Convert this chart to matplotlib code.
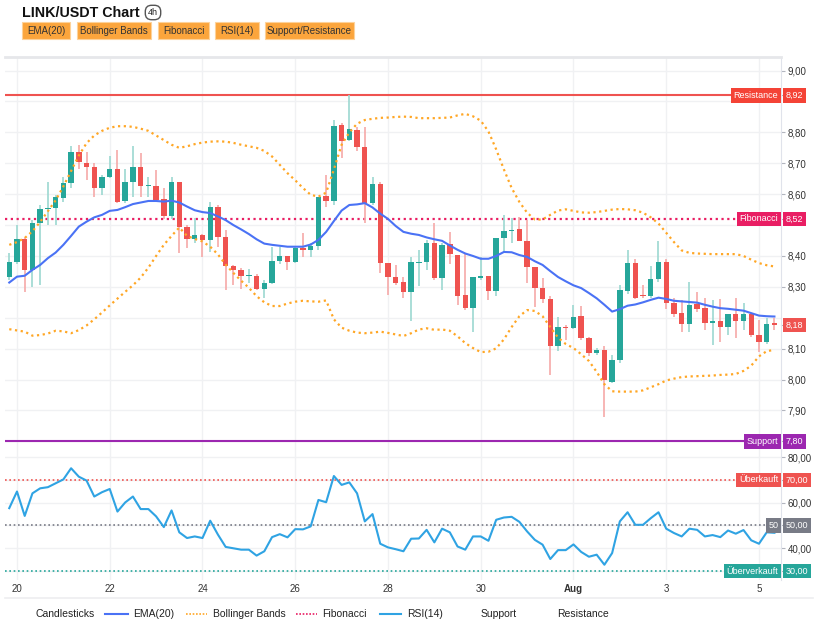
import numpy as np
import matplotlib
matplotlib.use('Agg')
import matplotlib.pyplot as plt
from matplotlib.patches import Rectangle
from matplotlib.lines import Line2D
from matplotlib.ticker import FuncFormatter

plt.rcParams['font.family'] = ['Liberation Sans', 'DejaVu Sans']

# 4h candles, 19 Jul 20:00 -> 5 Aug 08:00
opens = [8.333, 8.380, 8.456, 8.355, 8.506, 8.551, 8.555, 8.587, 8.635, 8.737,
         8.702, 8.689, 8.619, 8.657, 8.682, 8.577, 8.639, 8.687, 8.625, 8.627,
         8.584, 8.530, 8.638, 8.495, 8.455, 8.468, 8.452, 8.560, 8.460, 8.366,
         8.355, 8.336, 8.336, 8.293, 8.314, 8.385, 8.400, 8.380, 8.425, 8.419,
         8.433, 8.594, 8.579, 8.824, 8.774, 8.808, 8.752, 8.571, 8.633, 8.378,
         8.331, 8.315, 8.284, 8.377, 8.379, 8.443, 8.330, 8.438, 8.404, 8.273,
         8.230, 8.329, 8.335, 8.287, 8.457, 8.480, 8.486, 8.449, 8.364, 8.296,
         8.260, 8.107, 8.169, 8.166, 8.206, 8.134, 8.085, 8.096, 7.993, 8.064,
         8.288, 8.377, 8.274, 8.271, 8.325, 8.380, 8.247, 8.215, 8.180, 8.245,
         8.231, 8.183, 8.191, 8.169, 8.212, 8.191, 8.212, 8.144, 8.121, 8.182]
highs = [8.409, 8.500, 8.462, 8.517, 8.565, 8.641, 8.598, 8.657, 8.757, 8.760,
         8.738, 8.700, 8.662, 8.724, 8.743, 8.682, 8.756, 8.732, 8.657, 8.678,
         8.619, 8.657, 8.641, 8.500, 8.522, 8.470, 8.576, 8.565, 8.484, 8.371,
         8.360, 8.357, 8.341, 8.322, 8.430, 8.430, 8.400, 8.430, 8.474, 8.441,
         8.592, 8.662, 8.840, 8.830, 8.920, 8.819, 8.819, 8.657, 8.641, 8.378,
         8.371, 8.331, 8.398, 8.420, 8.452, 8.508, 8.443, 8.479, 8.404, 8.411,
         8.331, 8.396, 8.335, 8.458, 8.533, 8.522, 8.527, 8.517, 8.364, 8.328,
         8.271, 8.202, 8.177, 8.242, 8.238, 8.139, 8.101, 8.107, 8.080, 8.306,
         8.418, 8.389, 8.306, 8.368, 8.450, 8.389, 8.263, 8.258, 8.317, 8.285,
         8.263, 8.258, 8.260, 8.212, 8.263, 8.247, 8.212, 8.193, 8.198, 8.198]
lows = [8.322, 8.375, 8.285, 8.299, 8.305, 8.500, 8.500, 8.576, 8.619, 8.681,
        8.646, 8.590, 8.598, 8.652, 8.571, 8.573, 8.592, 8.592, 8.592, 8.576,
        8.519, 8.519, 8.409, 8.425, 8.441, 8.398, 8.414, 8.430, 8.290, 8.306,
        8.292, 8.312, 8.290, 8.263, 8.310, 8.374, 8.355, 8.376, 8.398, 8.398,
        8.420, 8.558, 8.565, 8.716, 8.772, 8.741, 8.506, 8.565, 8.344, 8.274,
        8.306, 8.265, 8.188, 8.304, 8.355, 8.322, 8.290, 8.373, 8.242, 8.225,
        8.155, 8.322, 8.258, 8.271, 8.409, 8.443, 8.447, 8.314, 8.236, 8.247,
        8.015, 8.093, 8.128, 8.163, 8.128, 8.077, 8.080, 7.880, 7.990, 8.053,
        8.277, 8.260, 8.263, 8.263, 8.317, 8.228, 8.204, 8.155, 8.155, 8.220,
        8.161, 8.112, 8.120, 8.145, 8.134, 8.161, 8.137, 8.090, 8.115, 8.161]
closes = [8.380, 8.454, 8.355, 8.508, 8.551, 8.556, 8.590, 8.635, 8.737, 8.703,
          8.687, 8.619, 8.657, 8.682, 8.576, 8.639, 8.687, 8.625, 8.628, 8.581,
          8.530, 8.638, 8.493, 8.455, 8.468, 8.452, 8.560, 8.461, 8.366, 8.355,
          8.335, 8.339, 8.293, 8.314, 8.385, 8.400, 8.380, 8.425, 8.419, 8.433,
          8.592, 8.579, 8.821, 8.773, 8.810, 8.752, 8.571, 8.633, 8.376, 8.331,
          8.314, 8.284, 8.379, 8.381, 8.441, 8.330, 8.436, 8.406, 8.271, 8.230,
          8.331, 8.334, 8.287, 8.458, 8.481, 8.484, 8.447, 8.364, 8.296, 8.260,
          8.107, 8.169, 8.166, 8.204, 8.134, 8.087, 8.096, 7.997, 8.064, 8.290,
          8.377, 8.263, 8.269, 8.325, 8.380, 8.247, 8.212, 8.180, 8.242, 8.228,
          8.182, 8.188, 8.169, 8.212, 8.191, 8.212, 8.144, 8.121, 8.180, 8.177]

ema20 = [8.314, 8.333, 8.336, 8.355, 8.371, 8.393, 8.411, 8.436, 8.465, 8.495,
         8.511, 8.525, 8.533, 8.546, 8.549, 8.558, 8.568, 8.573, 8.578, 8.578,
         8.576, 8.579, 8.573, 8.560, 8.548, 8.542, 8.539, 8.528, 8.516, 8.500,
         8.486, 8.471, 8.454, 8.440, 8.436, 8.433, 8.430, 8.430, 8.430, 8.437,
         8.452, 8.478, 8.513, 8.547, 8.565, 8.567, 8.571, 8.557, 8.537, 8.520,
         8.497, 8.478, 8.472, 8.468, 8.460, 8.454, 8.449, 8.434, 8.420, 8.408,
         8.400, 8.391, 8.391, 8.400, 8.413, 8.412, 8.403, 8.397, 8.383, 8.371,
         8.351, 8.332, 8.318, 8.305, 8.296, 8.280, 8.263, 8.242, 8.220, 8.228,
         8.239, 8.243, 8.250, 8.258, 8.265, 8.261, 8.255, 8.253, 8.251, 8.249,
         8.242, 8.236, 8.231, 8.229, 8.226, 8.223, 8.215, 8.207, 8.205, 8.204]
bb_upper = [8.436, 8.445, 8.458, 8.480, 8.510, 8.545, 8.580, 8.625, 8.675, 8.725,
            8.765, 8.790, 8.805, 8.815, 8.820, 8.820, 8.818, 8.812, 8.805, 8.790,
            8.775, 8.760, 8.750, 8.755, 8.762, 8.767, 8.770, 8.771, 8.770, 8.766,
            8.760, 8.755, 8.750, 8.740, 8.722, 8.695, 8.668, 8.645, 8.620, 8.598,
            8.592, 8.605, 8.680, 8.760, 8.800, 8.828, 8.840, 8.844, 8.847, 8.848,
            8.850, 8.851, 8.850, 8.846, 8.846, 8.846, 8.847, 8.848, 8.855, 8.860,
            8.852, 8.838, 8.803, 8.745, 8.680, 8.620, 8.575, 8.540, 8.518, 8.518,
            8.533, 8.547, 8.551, 8.546, 8.541, 8.540, 8.542, 8.546, 8.550, 8.552,
            8.551, 8.548, 8.540, 8.525, 8.505, 8.475, 8.445, 8.418, 8.410, 8.408,
            8.407, 8.406, 8.406, 8.406, 8.406, 8.400, 8.388, 8.377, 8.370, 8.366]
bb_lower = [8.163, 8.159, 8.155, 8.142, 8.144, 8.149, 8.158, 8.156, 8.150, 8.160,
            8.175, 8.195, 8.217, 8.240, 8.262, 8.284, 8.305, 8.330, 8.362, 8.400,
            8.436, 8.465, 8.492, 8.465, 8.455, 8.447, 8.430, 8.405, 8.372, 8.345,
            8.320, 8.297, 8.270, 8.250, 8.238, 8.238, 8.246, 8.252, 8.255, 8.253,
            8.252, 8.256, 8.195, 8.168, 8.158, 8.152, 8.150, 8.152, 8.155, 8.151,
            8.146, 8.141, 8.150, 8.162, 8.166, 8.161, 8.162, 8.158, 8.140, 8.118,
            8.102, 8.089, 8.090, 8.101, 8.130, 8.170, 8.205, 8.225, 8.222, 8.205,
            8.170, 8.136, 8.115, 8.102, 8.082, 8.060, 8.025, 7.985, 7.962, 7.961,
            7.961, 7.961, 7.965, 7.975, 7.985, 7.997, 8.003, 8.008, 8.010, 8.011,
            8.012, 8.013, 8.015, 8.016, 8.018, 8.028, 8.045, 8.075, 8.092, 8.096]
rsi14 = [57.6, 64.9, 54.2, 64.1, 66.3, 66.8, 68.5, 70.2, 75.1, 71.4,
         69.7, 62.7, 64.6, 66.0, 56.1, 60.1, 62.7, 57.2, 57.2, 54.0,
         49.3, 56.6, 47.0, 44.5, 45.2, 44.5, 52.1, 46.0, 40.6, 40.0,
         39.4, 39.4, 36.8, 38.7, 44.9, 46.2, 44.8, 48.4, 48.3, 49.6,
         61.2, 60.2, 71.7, 67.8, 68.9, 64.1, 51.8, 55.0, 42.0, 40.4,
         39.6, 38.7, 44.2, 44.3, 48.1, 42.6, 48.6, 47.0, 40.8, 39.4,
         45.2, 45.2, 43.3, 52.5, 53.5, 53.8, 51.6, 47.4, 43.7, 41.6,
         35.3, 39.2, 39.2, 41.7, 38.4, 36.3, 37.2, 32.8, 37.9, 51.8,
         55.8, 50.3, 50.3, 53.2, 55.8, 48.6, 46.7, 45.2, 48.6, 48.1,
         45.2, 45.8, 44.9, 47.8, 46.4, 48.0, 43.5, 42.0, 47.0, 46.8]

date_ticks = [1, 13, 25, 37, 49, 61, 73, 85, 97]
date_labels = ['20', '22', '24', '26', '28', '30', 'Aug', '3', '5']

# labelled ticks (the others sit under the value tags)
price_ticks = [7.9, 8.0, 8.1, 8.3, 8.4, 8.6, 8.7, 8.8, 9.0]
rsi_ticks = [40, 60, 80]

resistance = 8.92
support = 7.80
fibonacci = 8.52

GREEN = '#26A69A'
RED = '#EF5350'
GRID = '#F0F1F3'
W, H = 818, 620

fig = plt.figure(figsize=(W / 100, H / 100), dpi=100)
ax = fig.add_axes([5 / W, 1 - 450 / H, 776 / W, 393 / H])
ax_rsi = fig.add_axes([5 / W, 1 - 580 / H, 776 / W, 130 / H], sharex=ax)

x = np.arange(len(closes))
o = np.array(opens)
c = np.array(closes)
up = c >= o

# candles
wick_col = np.where(up, '#9CD8D1', '#F6A9A8')
ax.vlines(x, lows, highs, colors=wick_col, linewidth=1.2, zorder=2)
body_bottom = np.minimum(o, c)
body_h = np.maximum(np.abs(c - o), 0.004)
ax.bar(x, body_h, bottom=body_bottom, width=0.7,
       color=np.where(up, GREEN, RED), linewidth=0, zorder=3)

ax.plot(x, ema20, color='#4A72F5', linewidth=1.5, zorder=4)
ax.plot(x, bb_upper, color='#FFA726', linewidth=1.6, linestyle=(0, (1, 1.6)), zorder=4)
ax.plot(x, bb_lower, color='#FFA726', linewidth=1.6, linestyle=(0, (1, 1.6)), zorder=4)

ax.axhline(resistance, color='#EF5350', linewidth=1.5, zorder=1)
ax.axhline(support, color='#9C27B0', linewidth=1.5, zorder=1)
ax.axhline(fibonacci, color='#E91E63', linewidth=1.6, linestyle=(0, (1, 1.6)), zorder=1)

ax.set_xlim(-0.55, 99.85)
ax.set_ylim(7.772, 9.044)

# RSI
ax_rsi.plot(x, rsi14, color='#2FA3E3', linewidth=1.5, zorder=4)
ax_rsi.axhline(70, color='#EF5350', linewidth=1.2, linestyle=(0, (1, 1.6)))
ax_rsi.axhline(50, color='#787B86', linewidth=1.2, linestyle=(0, (1, 1.6)))
ax_rsi.axhline(30, color='#26A69A', linewidth=1.2, linestyle=(0, (1, 1.6)))
ax_rsi.set_ylim(26.1, 83.1)

comma = FuncFormatter(lambda v, p: f'{v:.2f}'.replace('.', ','))
for a, ticks, grid_ticks in ((ax, price_ticks, np.arange(7.8, 9.01, 0.1)),
                             (ax_rsi, rsi_ticks, np.arange(30, 81, 10))):
    a.yaxis.tick_right()
    a.set_yticks(ticks)
    a.yaxis.set_major_formatter(comma)
    a.tick_params(axis='y', length=3, color='#B2B5BE', labelsize=7,
                  labelcolor='#333333', pad=2)
    for g in grid_ticks:
        a.axhline(g, color=GRID, linewidth=1, zorder=0)
    a.grid(True, axis='x', color=GRID, linewidth=1)
    a.set_axisbelow(True)
    for s in ('left', 'bottom', 'top'):
        a.spines[s].set_visible(False)
    a.spines['right'].set_color('#E0E3EB')

ax.spines['top'].set_visible(True)
ax.spines['top'].set_color('#E6E7EA')
ax.spines['top'].set_linewidth(2)
ax.tick_params(axis='x', bottom=False, labelbottom=False)
ax_rsi.set_xticks(date_ticks)
ax_rsi.set_xticklabels(date_labels)
ax_rsi.tick_params(axis='x', length=0, labelsize=7, labelcolor='#333333', pad=3)
for lbl in ax_rsi.get_xticklabels():
    if lbl.get_text() == 'Aug':
        lbl.set_fontweight('bold')


def tag(a, y, value_txt, color, name=None, txtcol='white'):
    tr = a.get_yaxis_transform()
    a.plot([1.0, 1.004], [y, y], transform=tr, color='#B2B5BE', lw=0.8, clip_on=False)
    a.text(1.006, y, value_txt, transform=tr, ha='left', va='center', fontsize=6.5,
           color=txtcol, clip_on=False, zorder=10,
           bbox=dict(boxstyle='square,pad=0.3', fc=color, ec='none'))
    if name:
        a.text(0.9965, y, name, transform=tr, ha='right', va='center', fontsize=6.5,
               color=txtcol, clip_on=False, zorder=10,
               bbox=dict(boxstyle='square,pad=0.3', fc=color, ec='none'))


fmt = lambda v: f'{v:.2f}'.replace('.', ',')
tag(ax, resistance, fmt(resistance), '#F44336', 'Resistance')
tag(ax, fibonacci, fmt(fibonacci), '#E91E63', 'Fibonacci')
tag(ax, closes[-1], fmt(closes[-1]), '#EF5350')
tag(ax, support, fmt(support), '#9C27B0', 'Support')
tag(ax_rsi, 70, fmt(70), '#EF5350', 'Überkauft')
tag(ax_rsi, 50, fmt(50), '#787B86', '50')
tag(ax_rsi, 30, fmt(30), '#26A69A', 'Überverkauft')

# header
fig.text(22 / W, 1 - 13 / H, 'LINK/USDT Chart', fontsize=10.3, fontweight='bold',
         va='center', ha='left', color='#111111')
fig.text(153 / W, 1 - 12.5 / H, '4h', fontsize=6.5, va='center', ha='center',
         color='#222222',
         bbox=dict(boxstyle='round,pad=0.3,rounding_size=0.7', fc='white',
                   ec='#555555', lw=1))
buttons = [(22, 70, 'EMA(20)'), (77, 151, 'Bollinger Bands'), (158, 209, 'Fibonacci'),
           (215, 259, 'RSI(14)'), (265, 354, 'Support/Resistance')]
for x0, x1, t in buttons:
    fig.patches.append(Rectangle((x0 / W, 1 - 39 / H), (x1 - x0) / W, 17 / H,
                                 transform=fig.transFigure, fc='#FBA53C',
                                 ec='#FDD29A', lw=0.8))
    fig.text((x0 + x1) / 2 / W, 1 - 30.5 / H, t, fontsize=7, ha='center',
             va='center', color='#333333')

# bottom separator + legend
fig.lines.append(Line2D([5 / W, 813 / W], [1 - 598 / H] * 2, transform=fig.transFigure,
                        color='#EDEEF0', lw=1.2))
ly = 1 - 614 / H
legend_items = [
    (None, None, 35, 'Candlesticks'),
    ((105, 128), dict(color='#4A72F5', lw=1.5), 133, 'EMA(20)'),
    ((186, 207), dict(color='#FFA726', lw=1.2, ls=(0, (1, 1))), 213, 'Bollinger Bands'),
    ((296, 317), dict(color='#E91E63', lw=1.2, ls=(0, (1, 1))), 322, 'Fibonacci'),
    ((380, 401), dict(color='#2FA3E3', lw=1.5), 407, 'RSI(14)'),
    (None, None, 481, 'Support'),
    (None, None, 557, 'Resistance'),
]
for seg, style, tx, t in legend_items:
    if seg:
        fig.lines.append(Line2D([seg[0] / W, seg[1] / W], [ly, ly],
                                transform=fig.transFigure, **style))
    fig.text(tx / W, ly, t, fontsize=7.5, va='center', ha='left', color='#222222')

fig.savefig('out.png', dpi=100, facecolor='white')
